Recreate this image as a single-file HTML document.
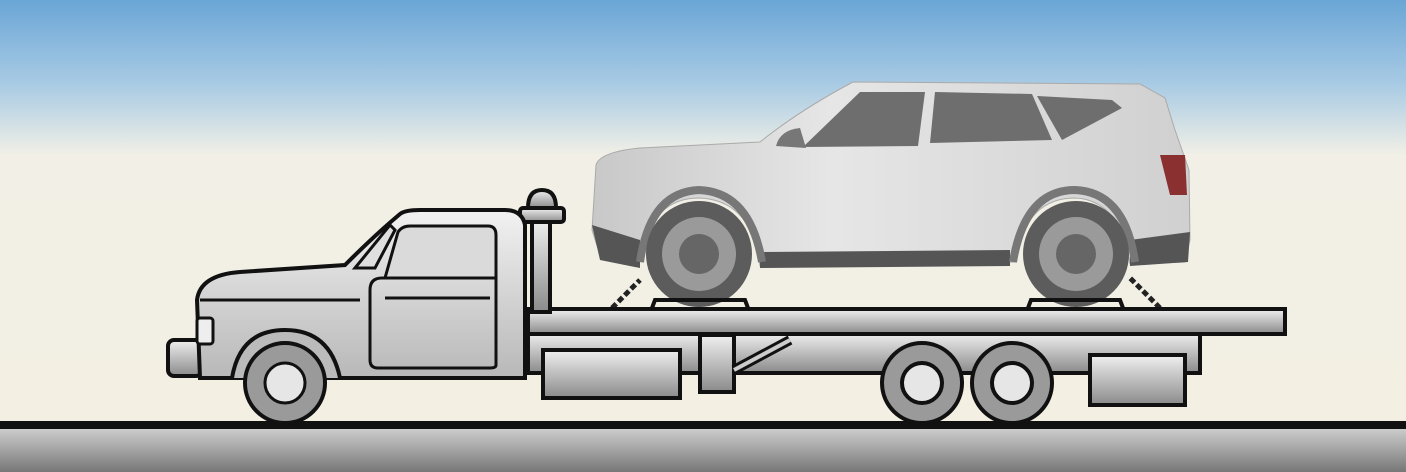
<!DOCTYPE html>
<html><head><style>
html,body{margin:0;padding:0;width:1406px;height:472px;overflow:hidden;}
</style></head><body>
<svg width="1406" height="472" viewBox="0 0 1406 472" xmlns="http://www.w3.org/2000/svg">
<defs>
<linearGradient id="sky" x1="0" y1="0" x2="0" y2="1">
<stop offset="0" stop-color="#6aa6d6"/><stop offset="0.18" stop-color="#a9cbe4"/><stop offset="0.33" stop-color="#f2f0e6"/><stop offset="1" stop-color="#f3efe2"/>
</linearGradient>
<linearGradient id="gnd" x1="0" y1="0" x2="0" y2="1"><stop offset="0" stop-color="#d8d8d8"/><stop offset="1" stop-color="#777"/></linearGradient>
<linearGradient id="met" x1="0" y1="0" x2="0" y2="1"><stop offset="0" stop-color="#f0f0f0"/><stop offset="0.5" stop-color="#bdbdbd"/><stop offset="1" stop-color="#8a8a8a"/></linearGradient>
<linearGradient id="body" x1="0" y1="0" x2="0" y2="1"><stop offset="0" stop-color="#f2f2f2"/><stop offset="0.5" stop-color="#d4d4d4"/><stop offset="1" stop-color="#b8b8b8"/></linearGradient>
<linearGradient id="car" x1="0" y1="0" x2="1" y2="0"><stop offset="0" stop-color="#c8c8c8"/><stop offset="0.4" stop-color="#e6e6e6"/><stop offset="1" stop-color="#d0d0d0"/></linearGradient>
</defs>
<rect width="1406" height="472" fill="url(#sky)"/>
<rect y="423" width="1406" height="49" fill="url(#gnd)"/>
<rect y="421" width="1406" height="8" fill="#111"/>

<!-- SUV -->
<path d="M596,165 Q600,152 640,148 L760,142 Q800,110 853,82 L1140,84 L1165,98 L1175,130 L1189,170 L1190,240 L1185,262 L1130,264 Q1120,200 1075,198 Q1025,198 1015,262 L760,266 Q752,200 699,198 Q650,198 640,262 L600,255 L592,230 Z" fill="url(#car)" stroke="#aaa" stroke-width="1"/>
<path d="M803,147 L860,92 L925,92 L918,146 Z" fill="#6e6e6e"/>
<path d="M935,92 L1032,94 L1052,140 L930,143 Z" fill="#6e6e6e"/>
<path d="M1037,96 L1112,100 L1122,108 L1062,140 Z" fill="#6e6e6e"/>
<path d="M776,146 Q780,130 800,128 L806,148 Z" fill="#777"/>
<path d="M1160,155 L1185,155 L1187,195 L1170,195 Z" fill="#8a3030"/>
<path d="M760,252 L1010,250 L1010,266 L760,268 Z" fill="#555"/>
<path d="M592,225 L600,260 L640,268 L640,240 Z" fill="#555"/>
<path d="M1130,240 L1190,232 L1188,262 L1130,266 Z" fill="#555"/>
<path d="M640,262 Q650,192 699,190 Q750,192 762,262" fill="none" stroke="#777" stroke-width="8"/>
<path d="M1013,262 Q1025,190 1075,190 Q1125,192 1135,262" fill="none" stroke="#777" stroke-width="8"/>
<g>
<circle cx="699" cy="254" r="53" fill="#5c5c5c"/><circle cx="699" cy="254" r="37" fill="#9a9a9a"/><circle cx="699" cy="254" r="20" fill="#666"/>
<circle cx="1076" cy="254" r="53" fill="#5c5c5c"/><circle cx="1076" cy="254" r="37" fill="#9a9a9a"/><circle cx="1076" cy="254" r="20" fill="#666"/>
</g>
<path d="M612,308 L640,280 M1160,308 L1130,278" stroke="#222" stroke-width="5" stroke-dasharray="6,3"/>
<path d="M652,308 L655,300 L745,300 L748,308 M1028,308 L1031,300 L1120,300 L1123,308" fill="none" stroke="#111" stroke-width="4"/>

<!-- Flatbed -->
<rect x="528" y="333" width="672" height="40" fill="url(#met)" stroke="#111" stroke-width="4"/>
<rect x="528" y="309" width="757" height="25" fill="url(#met)" stroke="#111" stroke-width="4"/>
<rect x="543" y="350" width="137" height="48" fill="url(#met)" stroke="#111" stroke-width="4"/>
<rect x="1090" y="355" width="95" height="50" fill="url(#met)" stroke="#111" stroke-width="4"/>
<rect x="700" y="335" width="34" height="57" fill="url(#met)" stroke="#111" stroke-width="4"/>
<path d="M734,370 L790,340" stroke="#111" stroke-width="10"/><path d="M734,370 L790,340" stroke="#ccc" stroke-width="4"/>
<g stroke="#111" stroke-width="4">
<circle cx="922" cy="383" r="40" fill="#9a9a9a"/><circle cx="922" cy="383" r="20" fill="#e6e6e6"/>
<circle cx="1012" cy="383" r="40" fill="#9a9a9a"/><circle cx="1012" cy="383" r="20" fill="#e6e6e6"/>
</g>
<!-- post -->
<rect x="532" y="220" width="18" height="92" fill="url(#met)" stroke="#111" stroke-width="4"/>
<rect x="520" y="208" width="44" height="14" rx="3" fill="url(#met)" stroke="#111" stroke-width="4"/>
<path d="M528,208 Q528,190 542,190 Q556,190 556,208 Z" fill="url(#met)" stroke="#111" stroke-width="4"/>

<!-- Cab -->
<rect x="168" y="340" width="34" height="36" rx="6" fill="url(#met)" stroke="#111" stroke-width="4"/>
<path d="M197,300 Q200,275 240,272 L345,265 Q375,235 400,214 Q405,210 420,210 L505,210 Q522,210 525,225 L525,378 L200,378 Z" fill="url(#body)" stroke="#111" stroke-width="4"/>
<path d="M355,268 L390,225 L395,230 L375,268 Z" fill="#e0e0e0" stroke="#111" stroke-width="3"/>
<path d="M385,278 L398,232 Q402,226 410,226 L488,226 Q496,226 496,235 L496,278 Z" fill="#dadada" stroke="#111" stroke-width="3"/>
<path d="M370,290 Q370,278 382,278 L496,278 L496,365 Q496,368 490,368 L378,368 Q370,368 370,360 Z" fill="none" stroke="#111" stroke-width="3"/>
<path d="M200,300 L360,300 M385,298 L490,298" stroke="#111" stroke-width="3"/>
<rect x="197" y="318" width="16" height="26" rx="3" fill="#eee" stroke="#111" stroke-width="3"/>
<path d="M232,378 Q240,330 285,330 Q330,330 340,378" fill="#bbb" stroke="#111" stroke-width="4"/>
<circle cx="285" cy="383" r="40" fill="#9a9a9a" stroke="#111" stroke-width="4"/>
<circle cx="285" cy="383" r="20" fill="#e6e6e6" stroke="#111" stroke-width="3"/>
</svg>
</body></html>
